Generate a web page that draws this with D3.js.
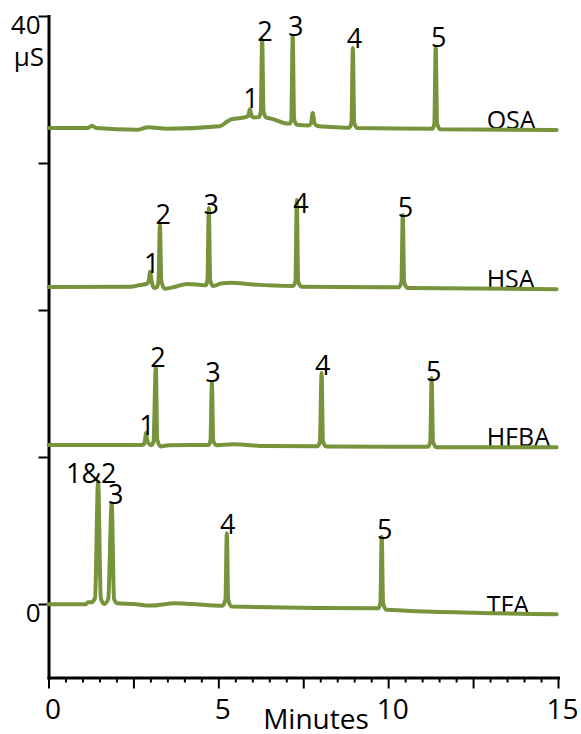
<!DOCTYPE html>
<html>
<head>
<meta charset="utf-8">
<script src="https://cdn.jsdelivr.net/npm/d3@7"></script>
<style>
	body { margin: 0; background: #fff; }
	text { font-family: "Open Sans", sans-serif; fill: #000; }
</style>
</head>
<body>
<script>

// axis ticks
const xTickLabels = [0, 5, 10, 15];
const yTicks = [0, 10, 20, 30, 40];
const yTickLabels = [0, 40];

// trace names and where their labels sit (minutes, µS)
const traceNames = ["OSA", "HSA", "HFBA", "TFA"];
const nameTime = 12.9;
const nameValues = [32.3, 21.5, 10.75, -0.68];

// chromatograms: [minutes, µS] (stacked offsets included)
const osaTrace = [
	[0, 32.38], [1.16, 32.38], [1.28, 32.54], [1.40, 32.38], [2.63, 32.26], [2.93, 32.44],
	[3.49, 32.33], [5.04, 32.50], [5.25, 32.80], [5.40, 32.98], [5.80, 33.12],
	[5.88, 33.2], [5.93, 33.65], [5.98, 33.2], [6.05, 33.1],
	[6.19, 33.12], [6.25, 33.5], [6.29, 38.37], [6.33, 33.5], [6.42, 33.08],
	[6.55, 33.02], [7.05, 32.68],
	[7.11, 32.68], [7.15, 33.0], [7.19, 38.64], [7.23, 33.0], [7.32, 32.6],
	[7.65, 32.55], [7.73, 32.7], [7.78, 33.40], [7.83, 32.7], [7.92, 32.52],
	[8.30, 32.45], [8.85, 32.40], [8.92, 32.75], [8.96, 37.82], [9.00, 32.75], [9.09, 32.38],
	[11.30, 32.33], [11.36, 32.7], [11.40, 37.89], [11.44, 32.7], [11.53, 32.30],
	[14.96, 32.24]
];
const hsaTrace = [
	[0, 21.56], [2.40, 21.58], [2.70, 21.70], [2.90, 21.80],
	[2.95, 21.95], [2.99, 22.60], [3.04, 21.9], [3.11, 21.50],
	[3.19, 21.55], [3.24, 22.0], [3.28, 25.78], [3.32, 22.0], [3.42, 21.45],
	[3.70, 21.56], [4.07, 21.77], [4.50, 21.70],
	[4.63, 21.68], [4.68, 22.05], [4.72, 26.94], [4.76, 22.0], [4.85, 21.63],
	[5.07, 21.80], [5.40, 21.86], [5.93, 21.75], [7.20, 21.63],
	[7.27, 21.95], [7.31, 27.48], [7.35, 21.95], [7.45, 21.59],
	[10.30, 21.54], [10.39, 21.9], [10.43, 26.46], [10.47, 21.9], [10.57, 21.50],
	[14.96, 21.41]
];
const hfbaTrace = [
	[0, 10.82], [2.70, 10.82], [2.80, 10.85], [2.84, 11.1], [2.87, 11.65], [2.91, 11.1], [3.02, 10.80],
	[3.09, 11.0], [3.16, 16.12], [3.20, 11.2], [3.30, 10.72],
	[3.55, 10.80], [4.20, 10.82], [4.72, 10.82],
	[4.77, 11.15], [4.81, 15.10], [4.85, 11.1], [4.95, 10.80],
	[5.43, 10.86], [6.40, 10.75], [7.92, 10.73],
	[7.99, 11.05], [8.04, 15.71], [8.08, 11.05], [8.18, 10.72],
	[11.17, 10.70], [11.24, 11.05], [11.28, 15.37], [11.32, 11.05], [11.42, 10.67],
	[14.96, 10.67]
];
const tfaTrace = [
	[0, -0.02], [1.10, -0.02], [1.16, 0.12], [1.26, 0.12], [1.37, 0.4], [1.46, 8.32], [1.54, 0.4], [1.64, 0.0],
	[1.76, 0.35], [1.86, 6.85], [1.93, 0.35], [2.02, 0.05],
	[2.50, 0.0], [3.00, -0.11], [3.72, 0.05], [4.20, 0.0], [5.12, -0.12],
	[5.21, 0.3], [5.25, 4.81], [5.29, 0.3], [5.39, -0.17],
	[9.70, -0.29], [9.77, 0.05], [9.81, 4.58], [9.85, 0.05], [9.95, -0.39],
	[14.96, -0.70]
];

// peak labels: [text, minutes, µS]
const osaPeaks = [["1", 5.96, 33.74], ["2", 6.37, 38.30], ["3", 7.28, 38.64], ["4", 9.01, 37.82], ["5", 11.49, 37.89]];
const hsaPeaks = [["1", 3.04, 22.52], ["2", 3.38, 25.85], ["3", 4.79, 26.53], ["4", 7.43, 26.6], ["5", 10.51, 26.33]];
const hfbaPeaks = [["1", 2.90, 11.50], ["2", 3.22, 16.12], ["3", 4.84, 15.10], ["4", 8.07, 15.58], ["5", 11.34, 15.17]];
const tfaPeaks = [["1&2", 1.26, 8.23], ["3", 1.98, 6.80], ["4", 5.28, 4.76], ["5", 9.90, 4.42]];

const traces = [osaTrace, hsaTrace, hfbaTrace, tfaTrace];
const peaks = [osaPeaks, hsaPeaks, hfbaPeaks, tfaPeaks];

const w = 581,
	h = 734,
	green = "#77933C";

const x = d3.scaleLinear().domain([0, 15]).range([48.5, 558]),
	y = d3.scaleLinear().domain([-5, 40]).range([677.5, 16]);

const svg = d3.select("body")
	.append("svg")
	.attr("width", w)
	.attr("height", h);

// x axis: small ticks every 0.5 min, longer every 2.5 min
const xMinor = d3.range(0, 15.01, 0.5).filter(v => v % 2.5 !== 0);

const xMinorAxis = svg.append("g")
	.attr("transform", `translate(0,${y(-5)})`)
	.call(d3.axisBottom(x).tickValues(xMinor).tickSize(5).tickSizeOuter(0).tickFormat(""));
xMinorAxis.select(".domain").remove();

const xAxis = svg.append("g")
	.attr("transform", `translate(0,${y(-5)})`)
	.call(d3.axisBottom(x)
		.tickValues(d3.range(0, 15.01, 2.5))
		.tickSize(11)
		.tickSizeOuter(0)
		.tickFormat(v => (xTickLabels.includes(v) ? v : "")));

svg.selectAll("g .tick line").attr("stroke", "#000").attr("stroke-width", 2);

xAxis.selectAll("text")
	.attr("y", 41)
	.attr("dy", 0)
	.attr("dx", 4)
	.attr("font-size", "28px")
	.attr("fill", "#000");

// y axis
const yAxis = svg.append("g")
	.attr("transform", `translate(${x(0)},0)`)
	.call(d3.axisLeft(y)
		.tickValues(yTicks)
		.tickSize(10)
		.tickSizeOuter(0)
		.tickFormat(v => (yTickLabels.includes(v) ? v : "")));

yAxis.selectAll(".tick line").attr("stroke", "#000").attr("stroke-width", 2);
yAxis.selectAll("text")
	.attr("x", -8)
	.attr("y", 17)
	.attr("dy", 0)
	.attr("font-size", "26px")
	.attr("fill", "#000");

svg.selectAll(".domain")
	.attr("stroke", "#000")
	.attr("stroke-width", 3)
	.attr("stroke-linecap", "square");

svg.append("text")
	.attr("x", 44)
	.attr("y", 66)
	.attr("text-anchor", "end")
	.attr("font-size", "26px")
	.text("µS");

svg.append("text")
	.attr("x", 316)
	.attr("y", 729)
	.attr("text-anchor", "middle")
	.attr("font-size", "28px")
	.text("Minutes");

// trace names go under the lines
svg.append("g")
	.selectAll("text")
	.data(traceNames)
	.enter()
	.append("text")
	.attr("x", x(nameTime))
	.attr("y", (d, i) => y(nameValues[i]))
	.attr("font-size", "25px")
	.text(d => d);

const line = d3.line()
	.x(d => x(d[0]))
	.y(d => y(d[1]))
	.curve(d3.curveMonotoneX);

svg.append("g")
	.selectAll("path")
	.data(traces)
	.enter()
	.append("path")
	.attr("d", line)
	.attr("fill", "none")
	.attr("stroke", green)
	.attr("stroke-width", 4)
	.attr("stroke-linejoin", "round")
	.attr("stroke-linecap", "round");

// peak numbers on top
svg.append("g")
	.selectAll("text")
	.data(peaks.flat())
	.enter()
	.append("text")
	.attr("x", d => x(d[1]))
	.attr("y", d => y(d[2]))
	.attr("text-anchor", "middle")
	.attr("font-size", "27px")
	.text(d => d[0]);

</script>
</body>
</html>
